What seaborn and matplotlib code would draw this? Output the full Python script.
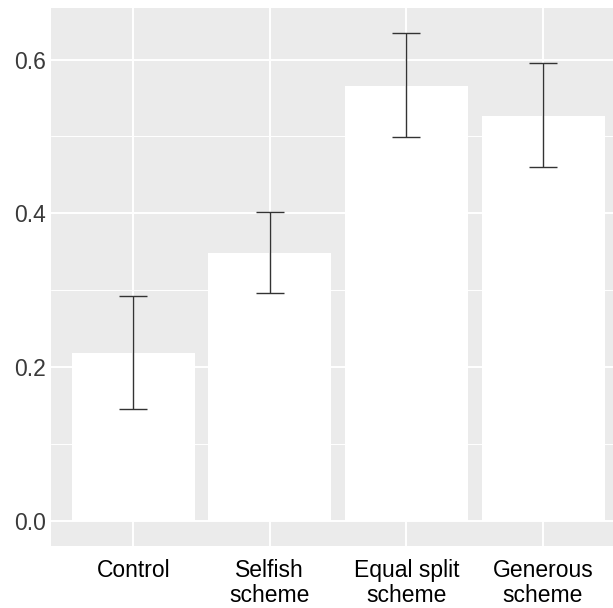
import matplotlib
matplotlib.use('Agg')
import matplotlib.pyplot as plt
import numpy as np
import pandas as pd
import seaborn as sns

# Dados
conditions = ['Control', 'Selfish\nscheme', 'Equal split\nscheme', 'Generous\nscheme']
means = [0.219, 0.349, 0.565, 0.527]
ci_low = [0.145, 0.297, 0.499, 0.460]
ci_high = [0.292, 0.402, 0.635, 0.595]
y_ticks = [0.0, 0.2, 0.4, 0.6]
y_minor = [0.1, 0.3, 0.5]

df = pd.DataFrame({'condition': conditions, 'mean': means,
                   'low': ci_low, 'high': ci_high})

sns.set_theme(style='darkgrid')
plt.rcParams['font.family'] = ['Liberation Sans', 'DejaVu Sans']

fig = plt.figure(figsize=(6.13, 6.08), dpi=100)
ax = fig.add_axes([51.3 / 613, 62 / 608, (625 - 51.3) / 613, (546 - 8) / 608])
ax.set_facecolor('#EBEBEB')

# Barras
sns.barplot(data=df, x='condition', y='mean', color='white', saturation=1,
            width=0.9, errorbar=None, linewidth=0, ax=ax)
for p in ax.patches:
    p.set_zorder(2)
    p.set_facecolor('#FFFFFF')
    p.set_edgecolor('none')

# Barras de erro
x = np.arange(len(df))
yerr = [df['mean'] - df['low'], df['high'] - df['mean']]
ax.errorbar(x, df['mean'], yerr=yerr, fmt='none', ecolor='#333333',
            elinewidth=1.0, capsize=9.8, capthick=1.0, zorder=3)

ax.set_xlim(-0.6, 3.6)
ax.set_ylim(-0.0325, 0.667)
ax.set_yticks(y_ticks)
ax.set_yticklabels([f'{v:.1f}' for v in y_ticks])
ax.set_yticks(y_minor, minor=True)

ax.grid(False)
ax.grid(which='major', axis='both', color='white', linewidth=1.4)
ax.grid(which='minor', axis='y', color='white', linewidth=0.7)
ax.set_axisbelow(True)

for s in ax.spines.values():
    s.set_visible(False)

ax.tick_params(axis='both', which='major', length=2.2, width=0.8, color='#333333',
               labelsize=16.5)
ax.tick_params(axis='y', labelcolor='#3a3a3a', pad=1.5)
ax.tick_params(axis='x', labelcolor='black', pad=7)
ax.tick_params(which='minor', length=0)
for lab in ax.get_xticklabels():
    lab.set_linespacing(1.15)
    lab.set_multialignment('center')

ax.set_xlabel('')
ax.set_ylabel('')

fig.savefig('out.png', dpi=100)
